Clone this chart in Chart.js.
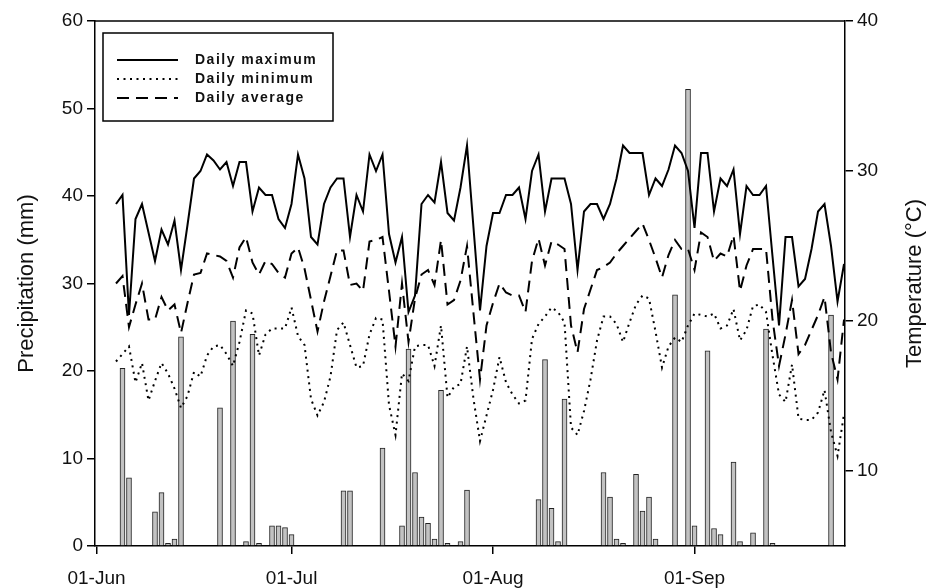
<!DOCTYPE html>
<html>
<head>
<meta charset="utf-8">
<script src="https://cdn.jsdelivr.net/npm/chart.js@4.4.0/dist/chart.umd.min.js"></script>
<style>
  html, body { margin: 0; padding: 0; background: #fff; }
  #wrap { width: 932px; height: 588px; }
</style>
</head>
<body>
<div id="wrap"><canvas id="chart" width="932" height="588"></canvas></div>
<script>
// day numbers count from 01-Jun (day 0)
const firstTempDay = 3;

const tMax = [
  27.8, 28.4, 20.4, 26.8, 27.8, 25.9, 24.0, 26.1, 25.1, 26.7,
  23.4, 26.4, 29.5, 30.0, 31.1, 30.7, 30.1, 30.6, 29.0, 30.6,
  30.6, 27.3, 28.9, 28.4, 28.4, 26.8, 26.2, 27.8, 31.1, 29.5,
  25.6, 25.1, 27.8, 28.9, 29.5, 29.5, 25.6, 28.4, 27.3, 31.1,
  30.0, 31.1, 25.8, 23.9, 25.6, 20.6, 21.7, 27.8, 28.4, 27.9,
  30.6, 27.2, 26.7, 28.9, 31.7, 26.2, 20.7, 25.0, 27.2, 27.2,
  28.4, 28.4, 28.9, 26.8, 30.0, 31.1, 27.3, 29.5, 29.5, 29.5,
  27.8, 23.4, 27.3, 27.8, 27.8, 26.8, 27.8, 29.5, 31.7, 31.2,
  31.2, 31.2, 28.4, 29.5, 29.0, 30.1, 31.7, 31.2, 30.0, 26.2,
  31.2, 31.2, 27.3, 29.5, 29.0, 30.1, 25.8, 29.0, 28.4, 28.4,
  29.0, 24.3, 19.7, 25.6, 25.6, 22.3, 22.8, 24.8, 27.3, 27.8,
  25.0, 21.3, 23.8
];

const tMin = [
  17.3, 17.8, 18.3, 15.9, 17.2, 14.7, 16.0, 17.2, 16.5, 15.5,
  14.2, 15.0, 16.6, 16.3, 17.7, 18.3, 18.4, 17.8, 17.0, 18.6,
  20.7, 20.5, 17.7, 19.1, 19.5, 19.5, 19.5, 20.9, 19.0, 18.4,
  14.8, 13.7, 14.6, 16.3, 19.4, 19.9, 18.4, 16.9, 17.0, 19.1,
  20.2, 20.1, 14.4, 12.4, 16.5, 16.0, 18.3, 18.4, 18.4, 17.0,
  19.7, 14.9, 15.6, 15.8, 18.3, 14.8, 12.0, 13.7, 15.4, 17.6,
  15.9, 15.1, 14.5, 14.7, 18.8, 19.8, 20.3, 20.9, 20.6, 19.9,
  12.9, 12.4, 14.0, 16.1, 18.7, 20.3, 20.3, 19.8, 18.6, 19.9,
  21.1, 21.7, 21.5, 19.3, 16.9, 18.3, 18.9, 18.6, 19.7, 20.5,
  20.4, 20.3, 20.5, 19.5, 19.7, 20.8, 18.7, 19.4, 21.0, 21.1,
  20.6, 17.7, 15.1, 14.6, 17.1, 13.5, 13.4, 13.4, 13.9, 15.4,
  12.6, 11.0, 13.8
];

const tAvg = [
  22.5, 23.0, 19.6, 21.1, 22.5, 20.1, 20.1, 21.6, 20.7, 21.1,
  19.2, 21.2, 23.1, 23.2, 24.5, 24.4, 24.3, 24.0, 22.9, 24.9,
  25.6, 23.9, 23.1, 24.0, 23.8, 23.2, 22.9, 24.5, 24.9, 23.5,
  21.4, 19.3, 21.3, 23.0, 24.7, 24.7, 22.4, 22.5, 22.0, 25.3,
  25.4, 25.6, 22.0, 18.3, 22.5, 18.6, 21.5, 23.1, 23.4, 22.4,
  25.4, 21.1, 21.4, 22.7, 25.0, 20.5, 16.1, 19.7, 21.2, 22.5,
  21.9, 21.7, 21.7, 20.6, 24.0, 25.5, 23.7, 25.3, 25.1, 24.8,
  19.7, 17.9, 20.8, 22.1, 23.4, 23.6, 23.9, 24.5, 25.0, 25.5,
  26.0, 26.5, 25.4, 24.2, 22.9, 24.4, 25.4, 24.8, 24.8, 23.4,
  25.9, 25.6, 24.0, 24.5, 24.3, 25.7, 22.0, 23.7, 24.8, 24.8,
  24.8, 20.1, 17.0, 19.1, 21.4, 17.8, 18.4, 19.4, 20.4, 21.6,
  17.9, 16.1, 20.1
];

const rainDays = [4, 5, 9, 10, 11, 12, 13, 19, 21, 23, 24, 25, 27, 28, 29, 30,
  38, 39, 44, 47, 48, 49, 50, 51, 52, 53, 54, 56, 57,
  68, 69, 70, 71, 72, 78, 79, 80, 81, 83, 84, 85, 86,
  89, 91, 92, 94, 95, 96, 98, 99, 101, 103, 104, 113];
const rainMm = [20.3, 7.8, 3.9, 6.1, 0.3, 0.8, 23.9, 15.8, 25.7, 0.5, 24.2, 0.3, 2.3, 2.3, 2.1, 1.3,
  6.3, 6.3, 11.2, 2.3, 22.5, 8.4, 3.3, 2.6, 0.8, 17.8, 0.3, 0.5, 6.4,
  5.3, 21.3, 4.3, 0.5, 16.8, 8.4, 5.6, 0.8, 0.3, 8.2, 4.0, 5.6, 0.8,
  28.7, 52.2, 2.3, 22.3, 2.0, 1.3, 9.6, 0.5, 1.5, 24.8, 0.3, 26.4];

const tickDays = [0, 30, 61, 92];
const tickLabels = ['01-Jun', '01-Jul', '01-Aug', '01-Sep'];
const precipTicks = [0, 10, 20, 30, 40, 50, 60];
const tempTicks = [10, 20, 30, 40];

const FONT = "'Liberation Sans', Arial, sans-serif";
Chart.defaults.font.family = FONT;
Chart.defaults.color = '#111';

const asPoints = arr => arr.map((v, i) => ({ x: firstTempDay + i, y: v }));

// frame top edge, rotated axis titles and the boxed legend
const decorations = {
  id: 'decorations',
  afterDraw(chart) {
    const ctx = chart.ctx;
    const a = chart.chartArea;
    ctx.save();
    ctx.strokeStyle = '#000';
    ctx.lineWidth = 1.5;
    ctx.beginPath();
    ctx.moveTo(a.left, a.top);
    ctx.lineTo(a.right, a.top);
    ctx.stroke();

    ctx.fillStyle = '#111';
    ctx.font = '22px ' + FONT;
    ctx.textAlign = 'center';
    ctx.textBaseline = 'middle';
    const midY = (a.top + a.bottom) / 2;
    ctx.save();
    ctx.translate(27, midY);
    ctx.rotate(-Math.PI / 2);
    ctx.fillText('Precipitation (mm)', 0, 0);
    ctx.restore();
    ctx.save();
    ctx.translate(915, midY);
    ctx.rotate(-Math.PI / 2);
    ctx.fillText('Temperature (\u00B0C)', 0, 0);
    ctx.restore();

    // legend
    const bx = a.left + 8, by = a.top + 12, bw = 230, bh = 88;
    ctx.lineWidth = 1.5;
    ctx.strokeRect(bx, by, bw, bh);
    ctx.font = 'bold 14px ' + FONT;
    ctx.letterSpacing = '1.5px';
    ctx.textAlign = 'left';
    const lineSets = chart.data.datasets.filter(d => d.type === 'line');
    lineSets.forEach((d, i) => {
      const y = by + 27 + i * 19;
      ctx.setLineDash(d.borderDash || []);
      ctx.lineWidth = d.borderWidth;
      ctx.beginPath();
      ctx.moveTo(bx + 14, y);
      ctx.lineTo(bx + 75, y);
      ctx.stroke();
      ctx.setLineDash([]);
      ctx.fillText(d.label, bx + 92, y);
    });
    ctx.restore();
  }
};

const tickGrid = { drawOnChartArea: false, drawTicks: true, tickLength: 8, color: '#000', lineWidth: 1.5, offset: false };
const axisBorder = { display: true, color: '#000', width: 1.5 };

new Chart(document.getElementById('chart'), {
  data: {
    datasets: [
      { type: 'line', label: 'Daily maximum', data: asPoints(tMax), yAxisID: 'yT',
        borderColor: '#000', borderWidth: 2, pointRadius: 0, tension: 0, order: 1 },
      { type: 'line', label: 'Daily minimum', data: asPoints(tMin), yAxisID: 'yT',
        borderColor: '#000', borderWidth: 2, borderDash: [2, 4.5], pointRadius: 0, tension: 0, order: 1 },
      { type: 'line', label: 'Daily average', data: asPoints(tAvg), yAxisID: 'yT',
        borderColor: '#000', borderWidth: 2, borderDash: [12, 7], pointRadius: 0, tension: 0, order: 1 },
      { type: 'bar', label: 'Precipitation', data: rainDays.map((d, i) => ({ x: d, y: rainMm[i] })),
        yAxisID: 'yP', backgroundColor: '#c2c2c2', borderColor: '#222', borderWidth: 1,
        barThickness: 5, order: 2 }
    ]
  },
  options: {
    responsive: false,
    animation: false,
    layout: { padding: { top: 21, left: 0, right: 0, bottom: 0 } },
    plugins: { legend: { display: false }, tooltip: { enabled: false } },
    scales: {
      x: {
        type: 'linear', position: 'bottom', min: -0.23, max: 115.15, offset: false,
        grid: tickGrid, border: axisBorder,
        ticks: { font: { size: 19 }, color: '#111', padding: 13, maxRotation: 0, autoSkip: false,
          callback: v => { const k = tickDays.indexOf(v); return k >= 0 ? tickLabels[k] : ''; } },
        afterBuildTicks: s => { s.ticks = tickDays.map(v => ({ value: v })); },
        afterFit: s => { s.height = 42; }
      },
      yP: {
        type: 'linear', position: 'left', min: 0, max: 60,
        grid: tickGrid, border: axisBorder,
        ticks: { font: { size: 19 }, color: '#111', padding: 4 },
        afterBuildTicks: s => { s.ticks = precipTicks.map(v => ({ value: v })); },
        afterFit: s => { s.width = 95; }
      },
      yT: {
        type: 'linear', position: 'right', min: 5, max: 40,
        grid: tickGrid, border: axisBorder,
        ticks: { font: { size: 19 }, color: '#111', padding: 4 },
        afterBuildTicks: s => { s.ticks = tempTicks.map(v => ({ value: v })); },
        afterFit: s => { s.width = 87; }
      }
    }
  },
  plugins: [decorations]
});
</script>
</body>
</html>
